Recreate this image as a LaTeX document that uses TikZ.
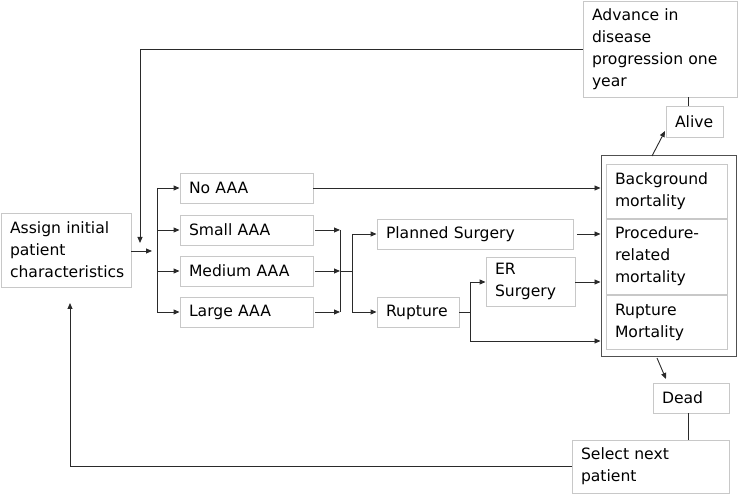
\documentclass[tikz,border=0pt]{standalone}
\usepackage{fontspec}
\setmainfont{DejaVu Sans}
\usetikzlibrary{arrows.meta}
\definecolor{boxgray}{HTML}{C8C8C8}
\definecolor{linegray}{HTML}{2A2A2A}
\definecolor{outergray}{HTML}{505050}
\begin{document}
\begin{tikzpicture}[x=1pt,y=-1pt,
  box/.style={draw=boxgray,line width=0.9pt,rectangle,inner xsep=9pt,inner ysep=0pt,
    align=left,font=\fontsize{15.6}{22}\selectfont,text=black},
  outerbox/.style={draw=outergray,line width=1pt},
  conn/.style={draw=linegray,line width=0.9pt},
  arr/.style={conn,-{Triangle[length=6pt,width=5pt]}}]
\useasboundingbox (0,0) rectangle (742,494);
% nodes
\node[box,minimum width=130,minimum height=74,text width=112] (assign) at (66,250) {Assign initial\\patient\\characteristics};
\node[box,minimum width=133,minimum height=30,text width=115] (noaaa) at (246.5,188) {No AAA};
\node[box,minimum width=133,minimum height=30,text width=115] (small) at (246.5,230) {Small AAA};
\node[box,minimum width=133,minimum height=30,text width=115] (medium) at (246.5,271) {Medium AAA};
\node[box,minimum width=133,minimum height=30,text width=115] (large) at (246.5,312) {Large AAA};
\node[box,minimum width=196,minimum height=30,text width=178] (planned) at (475,234) {Planned Surgery};
\node[box,minimum width=82,minimum height=30,text width=64] (rupture) at (418,312) {Rupture};
\node[box,minimum width=89,minimum height=49,text width=71] (er) at (530.5,281.5) {ER\\Surgery};
\node[outerbox,minimum width=135,minimum height=201,inner sep=0pt] (outer) at (668.5,256.5) {};
\node[box,minimum width=121,minimum height=54,text width=103] (bg) at (666.5,191) {Background\\mortality};
\node[box,minimum width=121,minimum height=75,text width=103] (proc) at (666.5,256.5) {Procedure-\\related\\mortality};
\node[box,minimum width=121,minimum height=54,text width=103] (rmort) at (666.5,322) {Rupture\\Mortality};
\node[box,minimum width=154,minimum height=96,text width=136] (adv) at (660,49) {Advance in\\disease\\progression one\\year};
\node[box,minimum width=57,minimum height=31,text width=39] (alive) at (694.5,121.5) {Alive};
\node[box,minimum width=76,minimum height=30,text width=58] (dead) at (691,398) {Dead};
\node[box,minimum width=157,minimum height=53,text width=139] (select) at (650.5,466.5) {Select next\\patient};
% coordinates
\coordinate (loopend) at (140,243);
\coordinate (assout) at (152,251);
\coordinate (split) at (157,251);
\coordinate (merge) at (340,271);
\coordinate (split2) at (352,271);
\coordinate (rsplit) at (470,312);
\coordinate (backend) at (70,303);
\coordinate (outtop) at (652,156);
\coordinate (alivetip) at (665,131);
\coordinate (outbot) at (657,358);
\coordinate (deadtip) at (666,379);
% connectors
\draw[arr] (adv.west) -| (loopend);
\draw[arr] (assign.east |- assout) -- (assout);
\draw[conn] (split |- noaaa) -- (split |- large);
\foreach \n in {noaaa,small,medium,large}{\draw[arr] (split |- \n) -- (\n.west);}
\draw[arr] (noaaa.east) -- (outer.west |- noaaa);
\foreach \n in {small,medium,large}{\draw[arr,shorten <=2pt] (\n.east) -- (merge |- \n);}
\draw[conn] (merge |- small) -- (merge |- large);
\draw[conn] (merge) -- (split2);
\draw[conn] (split2 |- planned) -- (split2 |- rupture);
\draw[arr] (split2 |- planned) -- (planned.west);
\draw[arr] (split2 |- rupture) -- (rupture.west);
\draw[arr,shorten <=4pt] (planned.east) -- (outer.west |- planned);
\draw[arr] (er.east |- 0,282) -- (outer.west |- 0,282);
\draw[conn] (rupture.east) -- (rsplit);
\draw[conn] (rsplit |- 0,282) -- (rsplit |- 0,341);
\draw[arr] (rsplit |- 0,282) -- (er.west |- 0,282);
\draw[arr] (rsplit |- 0,341) -- (outer.west |- 0,341);
\draw[arr] (outtop) -- (alivetip);
\draw[conn] (alive.north -| 688,0) -- (adv.south -| 688,0);
\draw[arr] (outbot) -- (deadtip);
\draw[conn] (dead.south -| 688,0) -- (select.north -| 688,0);
\draw[arr] (select.west) -| (backend);
\end{tikzpicture}
\end{document}
